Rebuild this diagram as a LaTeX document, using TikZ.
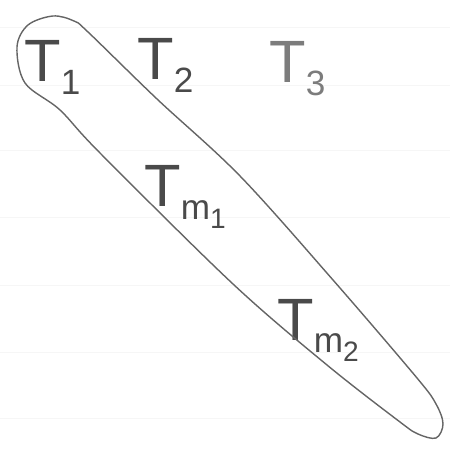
\documentclass[tikz,border=0pt]{standalone}
\usepackage{fontspec}
\setmainfont{Liberation Sans}
\definecolor{pencil}{HTML}{4A4A4A}
\definecolor{faded}{HTML}{7C7C7C}
\definecolor{ruling}{HTML}{F6F6F6}
\newcommand{\subA}[1]{\raisebox{-7pt}{\fontsize{20}{22}\selectfont #1}}
\newcommand{\subB}[1]{\raisebox{-5pt}{\fontsize{16}{18}\selectfont #1}}

\begin{document}
\begin{tikzpicture}[x=0.02cm,y=-0.02cm,
  lbl/.style={inner sep=0pt,anchor=base west,text=pencil,font=\fontsize{34}{36}\selectfont},
  loop/.style={draw=pencil!85,line width=0.8pt}]
\useasboundingbox (0,0) rectangle (450,455);
\foreach \y in {27,85,150,217,285,352,418} \draw[ruling,line width=0.5pt] (0,\y) -- (450,\y);
\node[lbl] (t1) at (24,82) {T\subA{1}};
\node[lbl] (t2) at (137,80) {T\subA{2}};
\node[lbl,text=faded] (t3) at (269,83) {T\subA{3}};
\node[lbl] (tm1) at (144,207) {T\subA{m\subB{1}}};
\node[lbl] (tm2) at (277,340) {T\subA{m\subB{2}}};
\draw[loop] plot[smooth cycle,tension=0.55] coordinates {
  (88,32) (157,99) (240,176) (333,280) (417,378) (436,404) (443,424)
  (436,438) (418,434) (400,422) (327,365) (233,284) (100,153) (60,110)
  (25,83) (17,47) (28,25) (53,16) (74,21)};
\end{tikzpicture}
\end{document}
